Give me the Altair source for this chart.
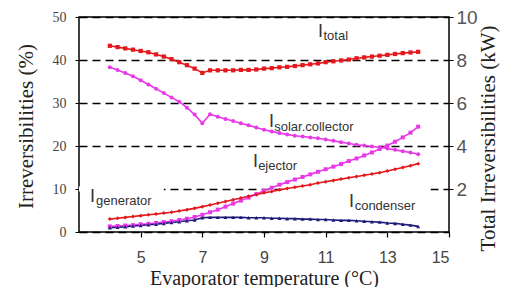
import altair as alt
import pandas as pd

# Evaporator temperature (°C)
evap_temp = [4.0, 4.25, 4.5, 4.75, 5.0, 5.25, 5.5, 5.75, 6.0, 6.25, 6.5, 6.75,
             7.0, 7.25, 7.5, 7.75, 8.0, 8.25, 8.5, 8.75, 9.0, 9.25, 9.5, 9.75,
             10.0, 10.25, 10.5, 10.75, 11.0, 11.25, 11.5, 11.75, 12.0, 12.25,
             12.5, 12.75, 13.0, 13.25, 13.5, 13.75, 14.0]

# Total irreversibilities (kW) - right axis
total_kw = [8.66, 8.60, 8.54, 8.48, 8.42, 8.36, 8.26, 8.16, 8.04, 7.90, 7.76, 7.60,
            7.40, 7.52, 7.52, 7.52, 7.52, 7.54, 7.54, 7.56, 7.60, 7.62, 7.66, 7.68,
            7.72, 7.76, 7.80, 7.84, 7.90, 7.94, 7.98, 8.02, 8.08, 8.12, 8.16, 8.20,
            8.24, 8.28, 8.32, 8.35, 8.38]

# Component irreversibilities (%) - left axis
solar_collector = [38.3, 37.7, 37.0, 36.2, 35.3, 34.3, 33.3, 32.3, 31.3, 30.3, 28.9, 27.3,
                   25.3, 27.4, 26.8, 26.3, 25.8, 25.3, 24.8, 24.3, 23.8, 23.4, 23.0, 22.7,
                   22.4, 22.2, 22.0, 21.8, 21.5, 21.2, 20.9, 20.6, 20.3, 20.1, 19.9, 19.7,
                   19.4, 19.1, 18.8, 18.5, 18.1]
ejector = [1.3, 1.4, 1.5, 1.6, 1.8, 1.9, 2.1, 2.3, 2.5, 2.8, 3.1, 3.5,
           4.0, 4.6, 5.2, 5.9, 6.6, 7.3, 8.0, 8.8, 9.6, 10.3, 11.0, 11.6,
           12.2, 12.8, 13.4, 14.0, 14.6, 15.2, 15.8, 16.5, 17.1, 17.8, 18.5, 19.3,
           20.1, 21.0, 22.0, 23.1, 24.5]
generator = [3.0, 3.2, 3.4, 3.6, 3.8, 4.0, 4.2, 4.4, 4.6, 4.9, 5.2, 5.5,
             5.9, 6.3, 6.7, 7.1, 7.5, 7.9, 8.3, 8.7, 9.1, 9.4, 9.8, 10.1,
             10.4, 10.7, 11.0, 11.4, 11.7, 12.0, 12.3, 12.6, 12.9, 13.2, 13.5, 13.8,
             14.2, 14.6, 15.0, 15.4, 15.9]
condenser = [1.0, 1.1, 1.2, 1.4, 1.5, 1.7, 1.8, 2.0, 2.2, 2.4, 2.6, 2.8,
             3.3, 3.4, 3.4, 3.4, 3.4, 3.4, 3.3, 3.3, 3.3, 3.2, 3.2, 3.1,
             3.1, 3.0, 3.0, 2.9, 2.9, 2.8, 2.7, 2.7, 2.6, 2.5, 2.4, 2.3,
             2.1, 2.0, 1.8, 1.6, 1.3]

series_names = ["solar", "ejector", "generator", "condenser"]
series_colors = ["#e838e8", "#e838e8", "#e3171c", "#1c1c78"]
series_shapes = ["circle", "square", "diamond", "triangle-up"]

# Annotation labels ("I" + subscript), positions in data units
label_I_t = [10.75, 9.16, 8.64, 3.36, 11.76]
label_I_v = [45.3, 24.4, 15.1, 7.0, 5.8]
label_sub_t = [10.93, 9.33, 8.81, 3.55, 11.94]
label_sub_v = [44.6, 23.6, 14.4, 6.3, 5.1]
label_sub_text = ["total", "solar.collector", "ejector", "generator", "condenser"]

# White label backgrounds that hide parts of the 10 % gridline
mask_t1 = [3.0, 9.6]
mask_t2 = [5.75, 14.4]
mask_v1 = [9.4, 9.4]
mask_v2 = [10.6, 10.6]

rows = []
for name, vals in zip(series_names, [solar_collector, ejector, generator, condenser]):
    for t, v in zip(evap_temp, vals):
        rows.append({"t": t, "v": v, "series": name})
pct = pd.DataFrame(rows)
tot = pd.DataFrame({"t": evap_temp, "kw": total_kw})
lab_I = pd.DataFrame({"t": label_I_t, "v": label_I_v, "txt": ["I"] * len(label_I_t)})
lab_sub = pd.DataFrame({"t": label_sub_t, "v": label_sub_v, "txt": label_sub_text})
masks = pd.DataFrame({"t": mask_t1, "t2": mask_t2, "v": mask_v1, "v2": mask_v2})

x_axis = alt.Axis(values=[5, 7, 9, 11, 13, 15], title="Evaporator temperature (°C)",
                  grid=False, domain=False, tickSize=5, tickColor="black", tickWidth=1.2,
                  labelFont="Liberation Sans", labelFontSize=16, labelColor="#444",
                  labelPadding=12, titleFont="Liberation Serif", titleFontSize=20,
                  titleFontWeight="normal", titleColor="#222",
                  titleY=52, titleBaseline="alphabetic")
x_enc = alt.X("t:Q", scale=alt.Scale(domain=[3, 15], nice=False, zero=False), axis=x_axis)

y_axis = alt.Axis(values=[0, 10, 20, 30, 40, 50], title="Irreversibilities (%)",
                  grid=True, gridDash=[8, 5], gridColor="black", gridWidth=1.3,
                  domain=False, tickSize=4, tickColor="black",
                  labelFont="Liberation Sans Narrow", labelFontSize=14, labelColor="#444",
                  labelPadding=9, titleFont="Liberation Serif", titleFontSize=21,
                  titleFontWeight="normal", titleColor="#222", titleAngle=270,
                  titleX=-47, titleY=109, titleAlign="center", titleBaseline="alphabetic")
y_enc = alt.Y("v:Q", scale=alt.Scale(domain=[0, 50], nice=False), axis=y_axis)

color_enc = alt.Color("series:N", scale=alt.Scale(domain=series_names, range=series_colors), legend=None)
shape_enc = alt.Shape("series:N", scale=alt.Scale(domain=series_names, range=series_shapes), legend=None)

mask_layer = alt.Chart(masks).mark_rect(color="white").encode(
    x=x_enc, x2="t2:Q", y=y_enc, y2="v2:Q")
lines = alt.Chart(pct).mark_line(strokeWidth=1.6).encode(x=x_enc, y=y_enc, color=color_enc)
points = alt.Chart(pct).mark_point(filled=True, size=16, opacity=1).encode(
    x=x_enc, y=y_enc, color=color_enc, shape=shape_enc)
txt_I = alt.Chart(lab_I).mark_text(align="left", baseline="alphabetic", font="Liberation Sans",
                                   fontSize=18, color="#333").encode(x=x_enc, y=y_enc, text="txt:N")
txt_sub = alt.Chart(lab_sub).mark_text(align="left", baseline="alphabetic", font="Liberation Sans",
                                       fontSize=13, color="#333").encode(x=x_enc, y=y_enc, text="txt:N")

left = alt.layer(mask_layer, lines, points, txt_I, txt_sub)

y_right_axis = alt.Axis(orient="right", values=[2, 4, 6, 8, 10], title="Total Irreversibilities (kW)",
                        grid=False, domain=False, tickSize=4, tickColor="black",
                        labelFont="Liberation Sans", labelFontSize=19, labelColor="#555",
                        labelPadding=3, titleFont="Liberation Serif", titleFontSize=21,
                        titleFontWeight="normal", titleColor="#222", titleAngle=270,
                        titleX=45, titleY=121, titleAlign="center", titleBaseline="alphabetic")
y_r = alt.Y("kw:Q", scale=alt.Scale(domain=[0, 10], nice=False), axis=y_right_axis)

tline = alt.Chart(tot).mark_line(strokeWidth=1.6, color="#e3171c").encode(x=x_enc, y=y_r)
tpts = alt.Chart(tot).mark_point(filled=True, shape="square", size=18, opacity=1,
                                 color="#e3171c").encode(x=x_enc, y=y_r)
right = alt.layer(tline, tpts)

chart = alt.layer(left, right).resolve_scale(y="independent").properties(
    width=370, height=215,
    autosize=alt.AutoSizeParams(type="none"),
    padding={"left": 71, "top": 9, "right": 51, "bottom": 55},
    background="white",
).configure_view(stroke="black", strokeWidth=1.5)

chart.save("out.html", embed_options={"renderer": "svg", "actions": False})
